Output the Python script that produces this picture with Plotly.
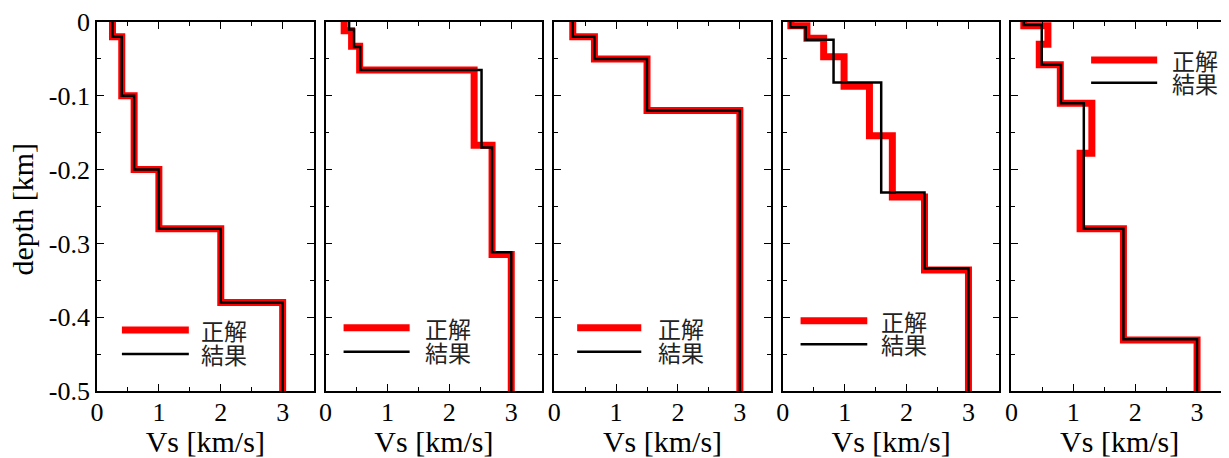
import plotly.graph_objects as go
from plotly.subplots import make_subplots

# ---- data: layer velocities (km/s) and layer-top depths (km) ----
# panel 1
vs_true_1 = [0.25, 0.4, 0.6, 1.0, 2.0, 3.0]
top_true_1 = [0.0, 0.02, 0.1, 0.2, 0.28, 0.38]
vs_res_1 = [0.25, 0.4, 0.6, 1.0, 2.0, 3.0]
top_res_1 = [0.0, 0.02, 0.1, 0.2, 0.28, 0.38]
# panel 2
vs_true_2 = [0.3, 0.42, 0.55, 2.4, 2.69, 3.0]
top_true_2 = [0.0, 0.012, 0.033, 0.065, 0.167, 0.315]
vs_res_2 = [0.38, 0.46, 0.56, 2.52, 2.69, 3.0]
top_res_2 = [0.0, 0.01, 0.034, 0.065, 0.17, 0.312]
# panel 3
vs_true_3 = [0.3, 0.65, 1.5, 3.0]
top_true_3 = [0.0, 0.02, 0.05, 0.12]
vs_res_3 = [0.3, 0.65, 1.5, 3.0]
top_res_3 = [0.0, 0.02, 0.05, 0.12]
# panel 4
vs_true_4 = [0.13, 0.39, 0.66, 0.99, 1.40, 1.77, 2.29, 3.0]
top_true_4 = [0.0, 0.005, 0.022, 0.047, 0.087, 0.154, 0.237, 0.336]
vs_res_4 = [0.12, 0.37, 0.82, 1.59, 2.29, 3.0]
top_res_4 = [0.0, 0.007, 0.024, 0.082, 0.231, 0.334]
# panel 5
vs_true_5 = [0.2, 0.59, 0.45, 0.79, 1.30, 1.11, 1.81, 3.0]
top_true_5 = [0.0, 0.005, 0.03, 0.058, 0.11, 0.178, 0.28, 0.431]
vs_res_5 = [0.2, 0.49, 0.8, 1.17, 1.81, 3.0]
top_res_5 = [0.0, 0.004, 0.058, 0.11, 0.28, 0.43]

bottom_depth = 0.5

series_true = [(vs_true_1, top_true_1), (vs_true_2, top_true_2), (vs_true_3, top_true_3),
               (vs_true_4, top_true_4), (vs_true_5, top_true_5)]
series_res = [(vs_res_1, top_res_1), (vs_res_2, top_res_2), (vs_res_3, top_res_3),
              (vs_res_4, top_res_4), (vs_res_5, top_res_5)]

name_true = "正解"
name_res = "結果"

x_tickvals = [0, 1, 2, 3]
x_ticktext = ["0", "1", "2", "3"]
y_tickvals = [0, -0.1, -0.2, -0.3, -0.4, -0.5]
y_ticktext = ["0", "-0.1", "-0.2", "-0.3", "-0.4", "-0.5"]

x_title = "Vs [km/s]"
y_title = "depth [km]"

# legend placement per panel (axis-domain fractions): line x0, x1, text x, red y, black y
legend_pos = [
    (0.115, 0.424, 0.472, 0.165, 0.100),
    (0.083, 0.388, 0.448, 0.1715, 0.1065),
    (0.106, 0.402, 0.470, 0.1715, 0.1065),
    (0.082, 0.390, 0.443, 0.1905, 0.1266),
    (0.368, 0.673, 0.731, 0.897, 0.8355),
]

SERIF = "Liberation Serif, Times New Roman, serif"
CJK = "Noto Sans CJK JP"

def profile(vs, tops):
    xs = list(vs) + [vs[-1]]
    ys = [-d for d in tops] + [-bottom_depth]
    return xs, ys

fig = make_subplots(rows=1, cols=5, horizontal_spacing=0.010625)

for i in range(5):
    col = i + 1
    xt, yt = profile(*series_true[i])
    xr, yr = profile(*series_res[i])
    fig.add_trace(go.Scatter(x=xt, y=yt, mode="lines", line_shape="vh", name=name_true,
                             line=dict(color="#ff0000", width=7), showlegend=False),
                  row=1, col=col)
    fig.add_trace(go.Scatter(x=xr, y=yr, mode="lines", line_shape="vh", name=name_res,
                             line=dict(color="#000000", width=2.5), showlegend=False),
                  row=1, col=col)

    ax_common = dict(showline=True, linecolor="black", linewidth=1.6, mirror="allticks",
                     ticks="inside", ticklen=7, tickwidth=1.3, tickcolor="black",
                     showgrid=False, zeroline=False, automargin=False,
                     tickfont=dict(family=SERIF, size=26, color="black"))
    fig.update_xaxes(range=[0, 3.5], tickvals=x_tickvals, ticktext=x_ticktext,
                     minor=dict(ticks="inside", ticklen=4, tickwidth=1.3, tickcolor="black",
                                dtick=0.5, tick0=0, showgrid=False),
                     ticklabelstandoff=-3,
                     title=dict(text=x_title, font=dict(family=SERIF, size=30, color="black"),
                                standoff=0),
                     row=1, col=col, **ax_common)
    fig.update_yaxes(range=[-0.5, 0], tickvals=y_tickvals, ticktext=y_ticktext,
                     minor=dict(ticks="inside", ticklen=4, tickwidth=1.3, tickcolor="black",
                                dtick=0.05, tick0=0, showgrid=False),
                     showticklabels=(i == 0),
                     row=1, col=col, **ax_common)

    # legend (sample lines + labels)
    x0, x1, xtx, yred, yblk = legend_pos[i]
    suffix = "" if col == 1 else str(col)
    xref = f"x{suffix} domain"
    yref = f"y{suffix} domain"
    fig.add_shape(type="line", xref=xref, yref=yref, x0=x0, x1=x1, y0=yred, y1=yred,
                  line=dict(color="#ff0000", width=7))
    fig.add_shape(type="line", xref=xref, yref=yref, x0=x0, x1=x1, y0=yblk, y1=yblk,
                  line=dict(color="#000000", width=2.5))
    fig.add_annotation(xref=xref, yref=yref, x=xtx, y=yred, text=name_true, showarrow=False,
                       xanchor="left", yanchor="middle",
                       font=dict(family=CJK, size=23, color="#222222"))
    fig.add_annotation(xref=xref, yref=yref, x=xtx, y=yblk, text=name_res, showarrow=False,
                       xanchor="left", yanchor="middle",
                       font=dict(family=CJK, size=23, color="#222222"))

# y-axis title placed as a rotated label left of the tick labels
fig.add_annotation(xref="x domain", yref="y domain", x=0, y=0.5, xshift=-75, yshift=-3,
                   text=y_title, textangle=-90, showarrow=False,
                   xanchor="center", yanchor="middle",
                   font=dict(family=SERIF, size=30, color="black"))

# page body adds an 8px offset, so the figure is sized to fit the window
fig.update_layout(width=1221, height=450, margin=dict(l=89, r=1, t=14, b=67),
                  plot_bgcolor="white", paper_bgcolor="white", showlegend=False)

fig.write_html("out.html")
